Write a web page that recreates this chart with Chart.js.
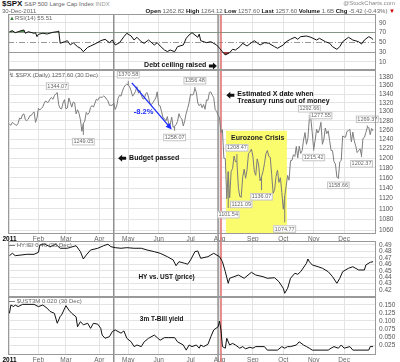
<!DOCTYPE html>
<html>
<head>
<meta charset="utf-8">
<script src="https://cdn.jsdelivr.net/npm/chart.js@4.4.1/dist/chart.umd.min.js"></script>
<style>
  body{margin:0;background:#fff;font-family:"Liberation Sans",Arial,sans-serif;}
  #wrap{position:relative;width:400px;height:362px;overflow:hidden;background:#fff;}
  canvas{position:absolute;left:0;}
  .t{position:absolute;white-space:nowrap;color:#666;font-size:6px;line-height:7px;z-index:2;}
  .t b{color:#111;}
</style>
</head>
<body>
<div id="wrap">
  <canvas id="cRsi" width="400" height="56" style="top:14px"></canvas>
  <canvas id="cPx" width="400" height="171" style="top:70px"></canvas>
  <canvas id="cHy" width="400" height="56" style="top:241px"></canvas>
  <canvas id="cUst" width="400" height="65" style="top:297px"></canvas>

  <div class="t" style="left:2px;top:0px"><b style="font-size:8px;line-height:8px">$SPX</b> S&amp;P 500 Large Cap Index <span style="color:#999">INDX</span></div>
  <div class="t" style="right:5px;top:0px;color:#888">@StockCharts.com</div>
  <div class="t" style="left:2px;top:8px">30-Dec-2011</div>
  <div class="t" style="right:5px;top:8px"><b>Open</b> 1262.82 <b>High</b> 1264.12 <b>Low</b> 1257.60 <b>Last</b> 1257.60 <b>Volume</b> 1.6B <b>Chg</b> -5.42 (-0.43%) <span style="color:#c00">&#9660;</span></div>
  <div class="t" style="left:9px;top:15px"><span style="color:#3a7a3a">&#9650;</span>RSI(14) 55.51</div>
  <div class="t" style="left:9px;top:72px">&#8623; $SPX (Daily) 1257.60 (30 Dec)</div>
  <div class="t" style="left:9px;top:242px"><b>&#8212;</b> HY:IEI 0.46 (30 Dec)</div>
  <div class="t" style="left:9px;top:298px"><b>&#8212;</b> $UST3M 0.020 (30 Dec)</div>
</div>
<script>
// trading-day index of each month start, and the labels under the panels
const monthDay = [0,20,39,62,82,103,125,145,168,189,210,231];
const monthLbl = ['2011','Feb','Mar','Apr','May','Jun','Jul','Aug','Sep','Oct','Nov','Dec'];

// $SPX daily close, one per trading day (252)
const spxClose = [
  1271.87,1270.20,1276.56,1273.85,1271.50,1269.75,1274.48,1285.96,1283.76,1293.24,1295.02,1281.92,1280.26,1283.35,1290.84,1291.18,1296.63,1299.54,1276.34,1286.12,
  1307.59,1304.03,1307.10,1310.87,1319.05,1324.57,1320.88,1321.87,1329.15,1332.32,1328.01,1336.32,1340.43,1343.01,1315.44,1307.40,1306.10,1319.88,1327.22,
  1306.33,1308.44,1330.97,1321.15,1310.13,1321.82,1320.02,1295.11,1304.28,1296.39,1281.87,1256.88,1273.72,1279.21,1298.38,1293.77,1297.54,1309.66,1313.80,1310.19,1319.44,1328.26,1325.83,
  1332.41,1332.87,1332.63,1335.54,1333.51,1328.17,1324.46,1314.16,1314.41,1314.52,1319.68,1305.14,1312.62,1330.36,1337.38,1335.25,1347.24,1355.66,1360.48,1363.61,
  1361.22,1356.62,1347.32,1335.10,1340.20,1346.29,1357.16,1342.08,1348.65,1337.77,1329.47,1328.98,1340.68,1343.60,1333.27,1317.37,1316.28,1320.47,1325.69,1331.10,1345.20,
  1314.55,1312.94,1300.16,1286.17,1284.94,1279.56,1289.00,1270.98,1271.83,1287.87,1265.42,1267.64,1271.50,1278.36,1295.52,1287.14,1283.50,1268.45,1280.10,1296.67,1307.41,1320.64,
  1339.67,1337.88,1339.22,1353.22,1343.80,1319.49,1313.64,1317.72,1308.87,1316.14,1305.44,1326.73,1325.84,1343.80,1345.02,1337.43,1331.94,1304.89,1300.67,1292.28,
  1286.94,1254.05,1260.34,1200.07,1199.38,1119.46,1172.53,1120.76,1172.64,1178.81,1204.49,1192.76,1193.89,1140.65,1123.53,1123.82,1162.35,1177.60,1159.27,1176.80,1210.08,1212.92,1218.89,
  1204.42,1173.97,1165.24,1198.62,1185.90,1154.23,1162.27,1172.87,1188.68,1209.11,1216.01,1204.09,1202.09,1166.76,1129.56,1136.43,1162.95,1175.38,1151.06,1160.40,1131.42,
  1099.23,1123.95,1144.03,1164.97,1155.46,1194.89,1195.54,1207.25,1203.66,1224.58,1200.86,1225.38,1209.88,1215.39,1238.25,1254.19,1229.05,1242.00,1284.59,1285.09,1253.30,
  1218.28,1237.90,1261.15,1253.23,1261.12,1275.92,1229.10,1239.69,1263.85,1251.78,1257.81,1236.91,1216.13,1215.65,1192.98,1188.04,1161.79,1158.67,1192.55,1195.19,1246.96,
  1244.58,1244.28,1257.08,1258.47,1261.01,1234.35,1255.19,1236.47,1225.73,1211.82,1215.75,1219.66,1205.35,1241.30,1243.72,1254.00,1265.33,1265.43,1249.64,1263.02,1257.60
];

// labelled highs / lows on the price panel
const markDay = [33,51,82,114,128,151,157,160,174,190,207,210,215,227,243,247];
const markVal = [1344.07,1249.05,1370.58,1258.07,1356.48,1101.54,1208.47,1121.09,1136.07,1074.77,1292.66,1215.42,1277.55,1158.66,1202.37,1269.37];

// RSI(14)
const rsiDay = [0,2,4,6,8,10,11,13,17,18,19,20,23,26,30,33,34,35,38,40,42,44,47,49,51,54,56,60,63,66,69,71,73,76,79,81,84,86,88,91,93,96,100,102,104,107,109,111,114,116,120,122,124,126,130,131,132,136,139,143,145,147,149,152,154,156,159,161,164,167,169,173,176,179,183,185,189,191,194,197,199,201,205,208,212,214,218,221,223,226,228,230,234,237,241,243,245,248,250,251];
const rsiVal = [71.7,73.8,69.7,71.7,73.8,75.2,68.5,71.7,68.5,69.7,61.5,66.4,68.5,67,70.5,71.7,73.2,48,51.2,53.3,44.5,49.2,41,37.7,30.7,39.7,42.4,48,53.3,56.2,49.2,54.7,44.5,49.2,61.5,68.5,62.9,54.7,60.3,51.2,48,54.7,44.5,49.2,42.4,34.2,31,34.2,30.7,41,44.5,58.2,65,69.7,60.3,66.7,53.3,49.2,51.2,44.5,37.7,30.7,24,28.7,35.6,34.2,41,48,42.4,49.2,53.3,44.5,49.2,48,41,37.7,44.5,51.2,56.2,60.3,56.2,61.5,62.9,60.3,54.7,58.2,51.2,48,41,35.6,41,51.2,60.3,54.7,51.2,46.5,54.7,61.5,58.2,55.5];

// HY:IEI ratio
const hyDay = [0,2,4,8,12,17,20,21,24,28,32,35,40,46,49,51,53,56,61,65,68,70,73,77,81,86,91,95,100,104,109,113,115,117,121,123,125,128,130,132,137,141,145,147,149,151,152,155,158,162,167,170,175,178,183,186,189,190,192,194,197,199,201,205,206,207,209,213,216,220,223,226,228,230,234,237,241,245,246,249,251];
const hyVal = [0.4734,0.4771,0.4734,0.4744,0.4755,0.4755,0.4786,0.4900,0.4916,0.4874,0.4911,0.4849,0.4849,0.4889,0.4796,0.4682,0.4744,0.4822,0.4849,0.4889,0.4911,0.4874,0.4858,0.4849,0.4858,0.4849,0.4849,0.4822,0.4796,0.4771,0.4718,0.4667,0.4578,0.4640,0.4615,0.4600,0.4667,0.4796,0.4807,0.4693,0.4718,0.4771,0.4718,0.4640,0.4485,0.4304,0.4382,0.4407,0.4433,0.4382,0.4475,0.4433,0.4407,0.4382,0.4391,0.4329,0.4226,0.4149,0.4226,0.4382,0.4460,0.4444,0.4485,0.4615,0.4682,0.4640,0.4589,0.4562,0.4538,0.4485,0.4407,0.4304,0.4382,0.4485,0.4538,0.4562,0.4511,0.4511,0.4589,0.4631,0.4640];

// $UST3M yield
const ustDay = [0,1,3,4,6,9,17,20,23,26,28,31,33,35,36,39,41,43,46,47,49,51,54,56,58,61,63,64,66,69,71,73,77,79,81,84,86,88,91,93,96,100,102,104,107,110,114,116,120,122,124,126,129,131,132,134,137,139,141,144,145,146,147,149,150,152,154,156,159,161,163,166,168,170,176,178,185,188,190,192,194,198,200,203,205,207,209,220,222,224,227,229,231,235,237,248,249,251];
const ustVal = [0.124,0.150,0.145,0.150,0.145,0.152,0.152,0.145,0.150,0.140,0.130,0.124,0.093,0.114,0.119,0.148,0.134,0.124,0.113,0.082,0.098,0.088,0.093,0.077,0.093,0.090,0.077,0.056,0.046,0.051,0.067,0.072,0.062,0.069,0.046,0.035,0.020,0.025,0.020,0.035,0.046,0.056,0.048,0.040,0.048,0.048,0.048,0.035,0.025,0.009,0.025,0.020,0.025,0.015,0.025,0.020,0.027,0.051,0.072,0.082,0.100,0.072,0.020,0.015,0.046,0.025,0.030,0.025,0.015,0.020,0.013,0.018,0.015,0.020,0.020,0.009,0.009,0.020,0.015,0.020,0.020,0.025,0.035,0.025,0.020,0.015,0.009,0.009,0.015,0.020,0.015,0.025,0.015,0.020,0.009,0.009,0.020,0.020];

// axis ticks
const rsiTicks = [10,30,50,70,90];
const pxTicks = [1060,1080,1100,1120,1140,1160,1180,1200,1220,1240,1260,1280,1300,1320,1340,1360,1380];
const hyTicks = [0.42,0.43,0.44,0.45,0.46,0.47,0.48,0.49];
const ustTicks = [0.025,0.05,0.075,0.1,0.125,0.15];

// event lines: budget passed, late July, debt ceiling raised (Aug 2)
const eventDay = [72,144,146];

Chart.defaults.font.family = '"Liberation Sans", Arial, sans-serif';

const pts = (xs, ys) => xs.map((d, i) => ({x: d, y: ys[i]}));

function xScale(showLabels){
  return {
    type:'linear', min:-1, max:253, bounds:'data',
    afterBuildTicks: s => { s.ticks = monthDay.map(v => ({value:v})); },
    ticks:{
      display:showLabels, autoSkip:false, maxRotation:0, padding:1,
      color: c => c.index === 0 ? '#000' : '#666',
      font: c => ({size:6.5, weight: c.index === 0 ? 'bold' : 'normal'}),
      callback:(v, i) => monthLbl[i]
    },
    grid:{color:'#e4e4e4', drawTicks:false},
    border:{display:false},
    afterFit: s => { s.height = showLabels ? 7 : 0; s.paddingLeft = 0; s.paddingRight = 0; }
  };
}

function yScale(type, min, max, ticks, fmt, gridColor){
  return {
    type, position:'right', min, max, bounds:'data',
    afterBuildTicks: s => { s.ticks = ticks.map(v => ({value:v})); },
    ticks:{color:'#555', font:{size:6.5}, padding:3, autoSkip:false, callback: fmt},
    grid:{color: gridColor || '#e4e4e4', drawTicks:false},
    border:{display:false},
    afterFit: s => { s.width = 24; s.paddingTop = 0; s.paddingBottom = 0; }
  };
}

function blockArrow(ctx, x, y, dir){
  ctx.beginPath();
  ctx.moveTo(x, y);
  ctx.lineTo(x - dir*4, y - 3.5);
  ctx.lineTo(x - dir*4, y - 1.5);
  ctx.lineTo(x - dir*8, y - 1.5);
  ctx.lineTo(x - dir*8, y + 1.5);
  ctx.lineTo(x - dir*4, y + 1.5);
  ctx.lineTo(x - dir*4, y + 3.5);
  ctx.closePath();
  ctx.fill();
}

function panelPlugin(before, after){
  return {
    id:'panel',
    beforeDatasetsDraw(chart){
      const {ctx, chartArea:a, scales:{x, y}} = chart;
      ctx.save();
      if (before) before(ctx, a, x, y);
      eventDay.forEach((d, i) => {
        const px = x.getPixelForValue(d);
        ctx.strokeStyle = i === 2 ? '#e06a6a' : '#8f8f8f';
        ctx.lineWidth = 1.5;
        ctx.beginPath(); ctx.moveTo(px, 0); ctx.lineTo(px, chart.height); ctx.stroke();
      });
      ctx.restore();
    },
    afterDatasetsDraw(chart){
      const {ctx, chartArea:a, scales:{x, y}} = chart;
      ctx.save();
      if (after) after(ctx, a, x, y);
      ctx.strokeStyle = '#999'; ctx.lineWidth = 1;
      ctx.strokeRect(a.left + 0.5, a.top + 0.5, a.right - a.left - 1, a.bottom - a.top - 1);
      ctx.restore();
    }
  };
}

function makeChart(id, datasets, yOpts, showX, plugin){
  return new Chart(document.getElementById(id), {
    type:'line',
    data:{datasets},
    options:{
      responsive:false, animation:false, devicePixelRatio:1,
      layout:{padding:{left:8, right:0, top:0, bottom:0}},
      plugins:{legend:{display:false}, tooltip:{enabled:false}},
      elements:{point:{radius:0}, line:{borderWidth:1, tension:0}},
      scales:{x: xScale(showX), y: yOpts}
    },
    plugins:[plugin]
  });
}

// ---- RSI panel
const rsiPts = pts(rsiDay, rsiVal);
makeChart('cRsi', [
  {data: rsiPts, borderColor:'#111', fill:{target:{value:70}, above:'#4e8f4e', below:'rgba(0,0,0,0)'}},
  {data: rsiPts, borderColor:'rgba(0,0,0,0)', borderWidth:0, fill:{target:{value:30}, above:'rgba(0,0,0,0)', below:'#9c3b3b'}}
], yScale('linear', -6.8, 108, rsiTicks, v => v,
   c => (c.tick.value === 70 || c.tick.value === 30) ? '#9a9a9a' : (c.tick.value === 50 ? 'rgba(0,0,0,0)' : '#e4e4e4')),
  false,
  panelPlugin(
    (ctx, a, x, y) => {
      const py = Math.round(y.getPixelForValue(50)) + 0.5;
      ctx.strokeStyle = '#999'; ctx.lineWidth = 1; ctx.setLineDash([6, 2, 1, 2]);
      ctx.beginPath(); ctx.moveTo(a.left, py); ctx.lineTo(a.right, py); ctx.stroke();
      ctx.setLineDash([]);
    },
    (ctx, a, x, y) => {
      ctx.fillStyle = '#111';
      ctx.font = 'bold 7px "Liberation Sans"';
      ctx.textAlign = 'right'; ctx.textBaseline = 'middle';
      const yy = y.getPixelForValue(3.5);
      ctx.fillText('Debt ceiling raised', x.getPixelForValue(135.9), yy);
      blockArrow(ctx, x.getPixelForValue(143.2), yy + 1, 1);
    }
  ));

// ---- price panel
makeChart('cPx', [
  {data: spxClose.map((v, i) => ({x:i, y:v})), borderColor:'#7d7d7d', borderWidth:1}
], yScale('logarithmic', 1053.3, 1396.7, pxTicks, v => String(v)), true,
  panelPlugin(
    (ctx, a, x, y) => {
      // Eurozone crisis band
      const x0 = x.getPixelForValue(149.5), x1 = x.getPixelForValue(191.5);
      const yt = y.getPixelForValue(1258);
      ctx.fillStyle = '#fbfb6e';
      ctx.fillRect(x0, yt, x1 - x0, a.bottom - yt);
    },
    (ctx, a, x, y) => {
      // high / low labels
      ctx.font = '5.5px "Liberation Sans"';
      ctx.textAlign = 'center'; ctx.textBaseline = 'middle';
      markDay.forEach((d, i) => {
        const px = x.getPixelForValue(d);
        const pv = y.getPixelForValue(markVal[i]);
        const pc = y.getPixelForValue(spxClose[d]);
        const up = markVal[i] >= spxClose[d];
        ctx.strokeStyle = '#7d7d7d'; ctx.lineWidth = 1;
        ctx.beginPath(); ctx.moveTo(px, pc); ctx.lineTo(px, pv); ctx.stroke();
        const t = markVal[i].toFixed(2);
        const w = ctx.measureText(t).width + 3;
        const cy = pv + (up ? -6.5 : 6.5);
        ctx.fillStyle = '#fff';
        ctx.fillRect(px - w/2, cy - 3.5, w, 7);
        ctx.strokeStyle = '#c4c4c4';
        ctx.strokeRect(px - w/2 + 0.5, cy - 3, w - 1, 6.5);
        ctx.fillStyle = '#666';
        ctx.fillText(t, px, cy + 0.3);
      });

      // -8.2% decline arrow
      const bx0 = x.getPixelForValue(84.5), by0 = y.getPixelForValue(1366);
      const bx1 = x.getPixelForValue(112), by1 = y.getPixelForValue(1261);
      const ang = Math.atan2(by1 - by0, bx1 - bx0);
      ctx.strokeStyle = '#1a2cff'; ctx.fillStyle = '#1a2cff'; ctx.lineWidth = 1.3;
      ctx.beginPath(); ctx.moveTo(bx0, by0); ctx.lineTo(bx1 - 3*Math.cos(ang), by1 - 3*Math.sin(ang)); ctx.stroke();
      ctx.beginPath();
      ctx.moveTo(bx1, by1);
      ctx.lineTo(bx1 - 6*Math.cos(ang) + 3*Math.sin(ang), by1 - 6*Math.sin(ang) - 3*Math.cos(ang));
      ctx.lineTo(bx1 - 6*Math.cos(ang) - 3*Math.sin(ang), by1 - 6*Math.sin(ang) + 3*Math.cos(ang));
      ctx.closePath(); ctx.fill();
      ctx.font = 'bold 7.5px "Liberation Sans"';
      ctx.fillText('-8.2%', x.getPixelForValue(92.6), y.getPixelForValue(1298.7));

      // text notes
      ctx.fillStyle = '#111';
      ctx.font = 'bold 7px "Liberation Sans"';
      ctx.textAlign = 'left';
      let tx = x.getPixelForValue(149.7), ty = y.getPixelForValue(1337.2);
      blockArrow(ctx, tx, ty, -1);
      ctx.fillText('Estimated X date when', tx + 11, ty - 1.5);
      ctx.fillText('Treasury runs out of money', tx + 11, ty + 6);
      tx = x.getPixelForValue(75); ty = y.getPixelForValue(1199.9);
      blockArrow(ctx, tx, ty, -1);
      ctx.fillText('Budget passed', tx + 11, ty);
      ctx.fillStyle = '#222';
      ctx.fillText('Eurozone Crisis', x.getPixelForValue(153), y.getPixelForValue(1242));
    }
  ));

// ---- HY:IEI panel
makeChart('cHy', [
  {data: pts(hyDay, hyVal), borderColor:'#111'}
], yScale('linear', 0.4091, 0.4962, hyTicks, v => v.toFixed(2)), false,
  panelPlugin(null, (ctx, a, x, y) => {
    ctx.fillStyle = '#111'; ctx.font = 'bold 6.5px "Liberation Sans"';
    ctx.textAlign = 'left'; ctx.textBaseline = 'middle';
    ctx.fillText('HY vs. UST (price)', x.getPixelForValue(89), y.getPixelForValue(0.4398));
  }));

// ---- 3m T-Bill panel
makeChart('cUst', [
  {data: pts(ustDay, ustVal), borderColor:'#111'}
], yScale('linear', -0.00625, 0.175, ustTicks, v => v.toFixed(3)), true,
  panelPlugin(null, (ctx, a, x, y) => {
    ctx.fillStyle = '#111'; ctx.font = 'bold 6.5px "Liberation Sans"';
    ctx.textAlign = 'left'; ctx.textBaseline = 'middle';
    ctx.fillText('3m T-Bill yield', x.getPixelForValue(90), y.getPixelForValue(0.106));
  }));
</script>
</body>
</html>
